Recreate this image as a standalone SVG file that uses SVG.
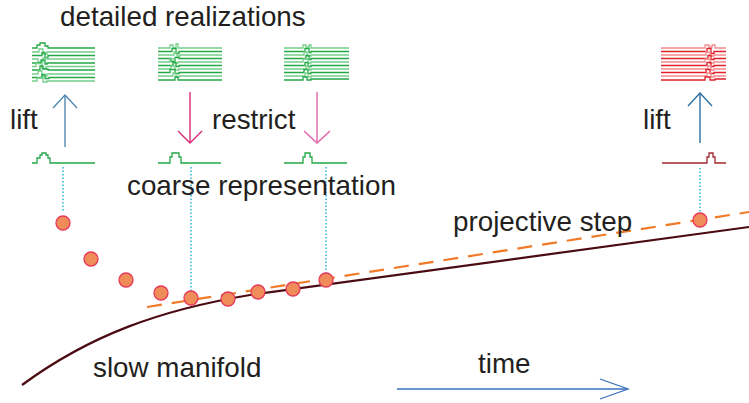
<svg xmlns="http://www.w3.org/2000/svg" width="749" height="403" viewBox="0 0 749 403">
<style>
text{font-family:"Liberation Sans",Arial,sans-serif;font-size:27.8px;fill:#231f20}
.g1{fill:none;stroke:#22a845;stroke-width:1.3}
.g2{fill:none;stroke:#74cf8a;stroke-width:1.3}
.r1{fill:none;stroke:#e2202a;stroke-width:1.3}
.r2{fill:none;stroke:#f58b8d;stroke-width:1.3}
.coarse{fill:none;stroke:#22a845;stroke-width:1.3}
.dot{fill:none;stroke:#29b6d6;stroke-width:1.5;stroke-dasharray:1.5 2}
.pt{fill:#f08b5a;stroke:#e5375a;stroke-width:1.3}
</style>
<defs>
<marker id="hBlue" markerUnits="userSpaceOnUse" viewBox="-14 -13 16 26" refX="0" refY="0" markerWidth="16" markerHeight="26" orient="auto"><path d="M-13,-12 L0,0 L-13,12" fill="none" stroke="#4f89b3" stroke-width="1.4"/></marker>
<marker id="hBlue2" markerUnits="userSpaceOnUse" viewBox="-14 -13 16 26" refX="0" refY="0" markerWidth="16" markerHeight="26" orient="auto"><path d="M-13,-12 L0,0 L-13,12" fill="none" stroke="#2c6e9f" stroke-width="1.4"/></marker>
<marker id="hMag" markerUnits="userSpaceOnUse" viewBox="-14 -13 16 26" refX="0" refY="0" markerWidth="16" markerHeight="26" orient="auto"><path d="M-12,-12 L0,0 L-12,12" fill="none" stroke="#d42a78" stroke-width="1.4"/></marker>
<marker id="hPink" markerUnits="userSpaceOnUse" viewBox="-14 -13 16 26" refX="0" refY="0" markerWidth="16" markerHeight="26" orient="auto"><path d="M-12,-13 L0,0 L-12,13" fill="none" stroke="#e365a6" stroke-width="1.4"/></marker>
<marker id="hTime" markerUnits="userSpaceOnUse" viewBox="-30 -12 32 24" refX="0" refY="0" markerWidth="32" markerHeight="24" orient="auto"><path d="M-28,-10 L0,0 L-28,10" fill="none" stroke="#3a72ba" stroke-width="1.3"/></marker>
</defs>

<g id="curves">
<path d="M22,385 C90,335 160,310 250,295 L749,227" fill="none" stroke="#4a0b12" stroke-width="2.2"/>
<path d="M147,307 L749,212" fill="none" stroke="#f07a28" stroke-width="2.2" stroke-dasharray="15 10"/>
</g>

<g id="connectors">
<path class="dot" d="M63,167 V212"/>
<path class="dot" d="M191,167 V292"/>
<path class="dot" d="M326,167 V273"/>
<path class="dot" d="M700,168 V213"/>
<path d="M65,147 V95" fill="none" stroke="#4f89b3" stroke-width="1.4" marker-end="url(#hBlue)"/>
<path d="M700,143 V93" fill="none" stroke="#2c6e9f" stroke-width="1.4" marker-end="url(#hBlue2)"/>
<path d="M190,92 V143" fill="none" stroke="#d42a78" stroke-width="1.4" marker-end="url(#hMag)"/>
<path d="M317,92 V143" fill="none" stroke="#e365a6" stroke-width="1.4" marker-end="url(#hPink)"/>
<path d="M397,389 H628" fill="none" stroke="#3a72ba" stroke-width="1.3" marker-end="url(#hTime)"/>
</g>

<g id="realization1">
<path class="g1" d="M32,48 h5 v-3 h3 v-2 h5 v3 h3 v2 H95"/>
<path class="g2" d="M32,52 h7 v-3 h4 v5 h4 v-2 H95"/>
<path class="g1" d="M32,55.5 h10 v-3 h3 v5 h3 v-2 H95"/>
<path class="g2" d="M32,59 h6 v3 h5 v-4 h4 v1 H95"/>
<path class="g1" d="M32,63 h9 v-3 h4 v4 h2 v-1 H95"/>
<path class="g2" d="M32,66.5 h4 v-3 h6 v5 h4 v-2 H95"/>
<path class="g1" d="M32,70 h8 v-4 h3 v3 h5 v1 H95"/>
<path class="g2" d="M32,74 h6 v-3 h4 v5 h5 v-2 H95"/>
<path class="g1" d="M32,77.5 h10 v-3 h3 v4 h4 v-1 H95"/>
<path class="g2" d="M32,81 h5 v-3 h6 v4 h4 v-1 H95"/>
</g>
<g id="realization2">
<path class="g2" d="M158,48 h12 v-3 h3 v3 h3 v-4 h2 v4 H222"/>
<path class="g1" d="M158,51.5 h14 v-3 h4 v5 h3 v-2 H222"/>
<path class="g2" d="M158,55 h16 v-3 h3 v4 h3 v-1 H222"/>
<path class="g1" d="M158,58.5 h13 v3 h4 v-4 h4 v1 H222"/>
<path class="g2" d="M158,62 h12 v-3 h5 v4 h3 v-1 H222"/>
<path class="g1" d="M158,65.5 h15 v-3 h3 v4 h3 v-1 H222"/>
<path class="g2" d="M158,69 h13 v-3 h4 v4 h4 v-1 H222"/>
<path class="g1" d="M158,72.5 h12 v-3 h5 v4 h4 v-1 H222"/>
<path class="g2" d="M158,76 h15 v-3 h3 v4 h3 v-1 H222"/>
<path class="g1" d="M158,80 h17 v-3 h3 v3 H222"/>
</g>
<g id="realization3">
<path class="g2" d="M284,48 h19 v-3 h3 v2 h3 v-2 h2 v3 H349"/>
<path class="g1" d="M284,51.5 h21 v-3 h4 v4 h2 v-1 H349"/>
<path class="g2" d="M284,55 h20 v-3 h3 v4 h4 v-1 H349"/>
<path class="g1" d="M284,58.5 h22 v-3 h3 v4 h2 v-1 H349"/>
<path class="g2" d="M284,62 h19 v-3 h5 v4 h3 v-1 H349"/>
<path class="g1" d="M284,65.5 h21 v-3 h3 v4 h3 v-1 H349"/>
<path class="g2" d="M284,69 h22 v-3 h3 v4 h2 v-1 H349"/>
<path class="g1" d="M284,72.5 h20 v-3 h4 v4 h3 v-1 H349"/>
<path class="g2" d="M284,76 h21 v-3 h3 v4 h3 v-1 H349"/>
<path class="g1" d="M284,80 h19 v-3 h4 v3 h4 v-1 H349"/>
</g>
<g id="realization4">
<path class="r2" d="M661,48 h44 v-3 h4 v2 h3 v-2 h3 v3 H726"/>
<path class="r1" d="M661,51.5 h46 v-3 h4 v5 h3 v-2 H726"/>
<path class="r2" d="M661,55 h45 v-3 h4 v4 h4 v-1 H726"/>
<path class="r1" d="M661,58.5 h47 v-3 h3 v4 h3 v-1 H726"/>
<path class="r2" d="M661,62 h44 v-3 h5 v4 h4 v-1 H726"/>
<path class="r1" d="M661,65.5 h46 v-3 h4 v4 h3 v-1 H726"/>
<path class="r2" d="M661,69 h47 v-3 h3 v4 h3 v-1 H726"/>
<path class="r1" d="M661,72.5 h45 v-3 h4 v4 h4 v-1 H726"/>
<path class="r2" d="M661,76 h46 v-3 h4 v4 h3 v-1 H726"/>
<path class="r1" d="M661,80 h44 v-3 h5 v3 h5 v-1 H726"/>
</g>

<g id="coarse1"><path class="coarse" d="M32,163 h5 v-5 h3 v-3 h2 v-2 h4 v2 h2 v3 h2 v5 H95"/></g>
<g id="coarse2"><path class="coarse" d="M158,163 H170 v-6 h2 v-4 h7 v4 h2 v6 H221"/></g>
<g id="coarse3"><path class="coarse" d="M284,163 H303 v-6 h2 v-4 h5 v4 h2 v6 H347"/></g>
<g id="coarse4"><path d="M662,163 H707 v-6 h2 v-4 h4 v4 h2 v6 H726" fill="none" stroke="#a3282d" stroke-width="1.3"/></g>

<g id="points">
<circle class="pt" cx="63" cy="223" r="7"/>
<circle class="pt" cx="91" cy="259" r="7"/>
<circle class="pt" cx="126" cy="280" r="7"/>
<circle class="pt" cx="161" cy="293" r="7"/>
<circle class="pt" cx="191" cy="298" r="7"/>
<circle class="pt" cx="228" cy="299" r="7"/>
<circle class="pt" cx="258" cy="292" r="7"/>
<circle class="pt" cx="293" cy="289" r="7"/>
<circle class="pt" cx="326" cy="280" r="7"/>
<circle class="pt" cx="700" cy="220" r="7"/>
</g>

<g id="labels">
<text x="60" y="26">detailed realizations</text>
<text x="10" y="129">lift</text>
<text x="212" y="129">restrict</text>
<text x="643" y="129">lift</text>
<text x="127" y="195">coarse representation</text>
<text x="453" y="231">projective step</text>
<text x="93" y="377">slow manifold</text>
<text x="478" y="373">time</text>
</g>
</svg>
